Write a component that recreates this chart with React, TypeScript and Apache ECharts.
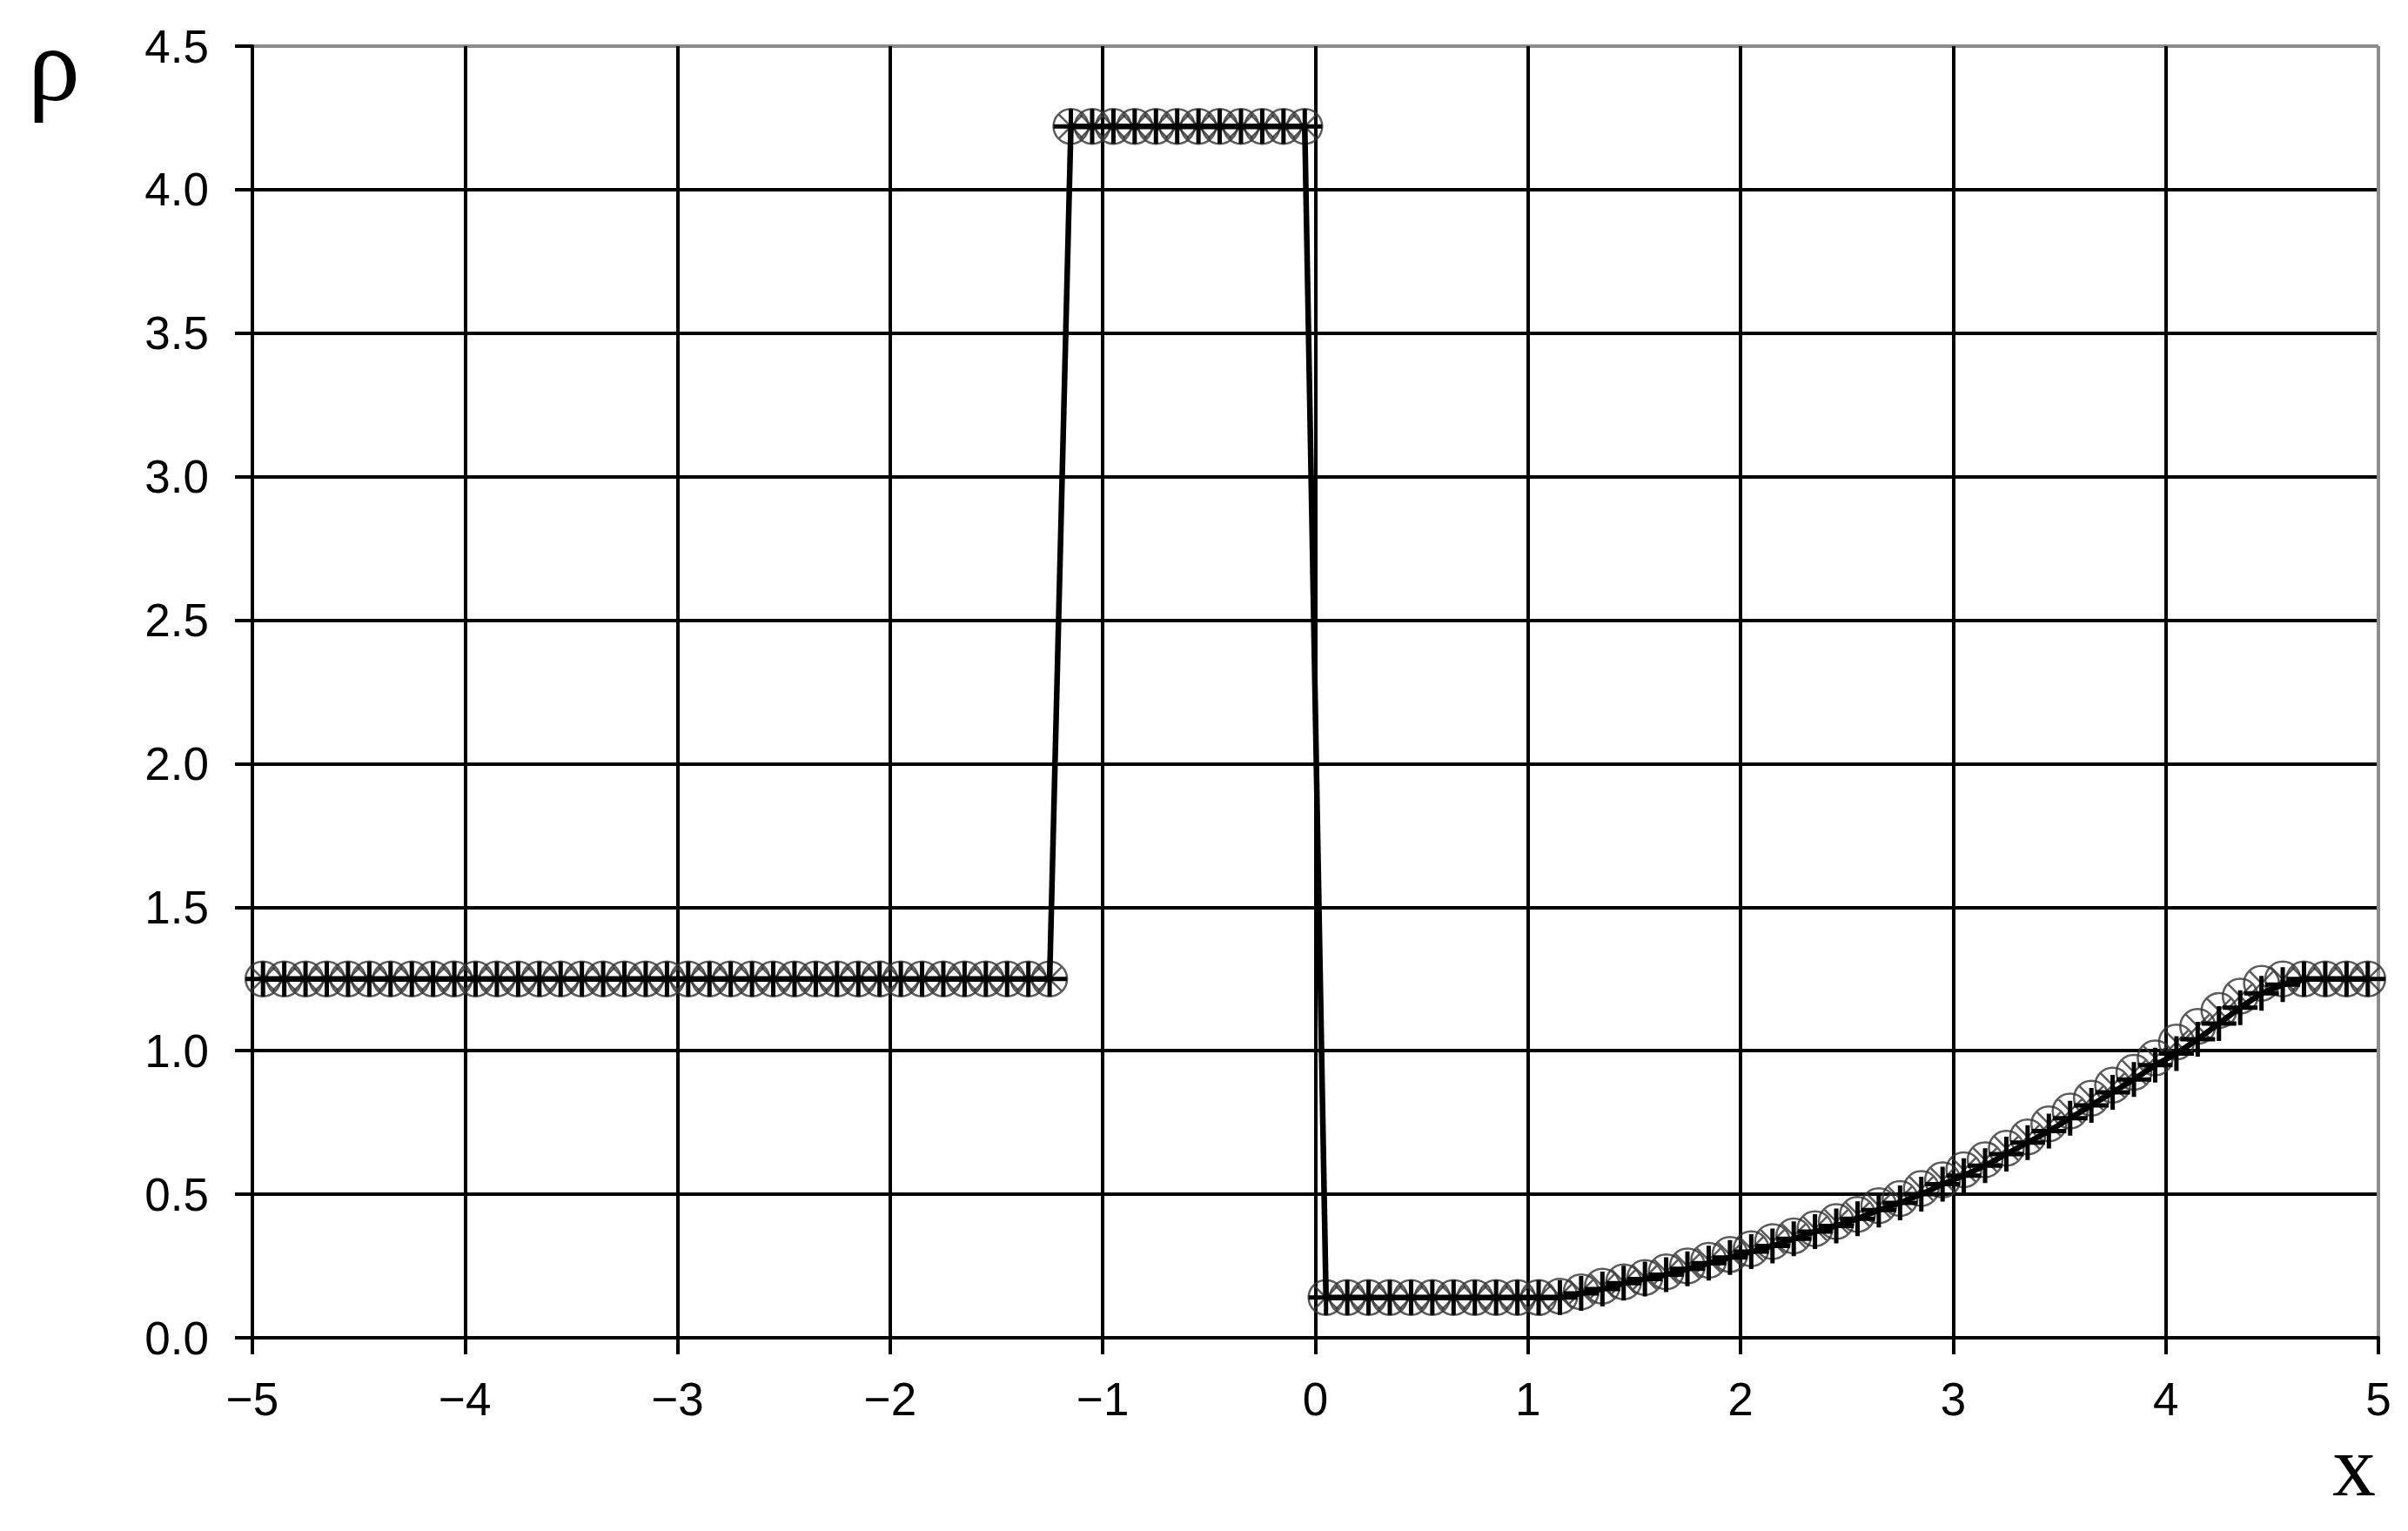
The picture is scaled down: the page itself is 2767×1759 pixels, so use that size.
import React, { useEffect, useRef } from "react";
import * as echarts from "echarts";

// cell-centre coordinates
const X = [
  -4.95, -4.85, -4.75, -4.65, -4.55, -4.45, -4.35, -4.25, -4.15, -4.05,
  -3.95, -3.85, -3.75, -3.65, -3.55, -3.45, -3.35, -3.25, -3.15, -3.05,
  -2.95, -2.85, -2.75, -2.65, -2.55, -2.45, -2.35, -2.25, -2.15, -2.05,
  -1.95, -1.85, -1.75, -1.65, -1.55, -1.45, -1.35, -1.25, -1.15, -1.05,
  -0.95, -0.85, -0.75, -0.65, -0.55, -0.45, -0.35, -0.25, -0.15, -0.05,
  0.05, 0.15, 0.25, 0.35, 0.45, 0.55, 0.65, 0.75, 0.85, 0.95,
  1.05, 1.15, 1.25, 1.35, 1.45, 1.55, 1.65, 1.75, 1.85, 1.95,
  2.05, 2.15, 2.25, 2.35, 2.45, 2.55, 2.65, 2.75, 2.85, 2.95,
  3.05, 3.15, 3.25, 3.35, 3.45, 3.55, 3.65, 3.75, 3.85, 3.95,
  4.05, 4.15, 4.25, 4.35, 4.45, 4.55, 4.65, 4.75, 4.85, 4.95,
];

// series drawn with "+" markers and the solid line
const RHO_PLUS = [
  1.25, 1.25, 1.25, 1.25, 1.25, 1.25, 1.25, 1.25, 1.25, 1.25,
  1.25, 1.25, 1.25, 1.25, 1.25, 1.25, 1.25, 1.25, 1.25, 1.25,
  1.25, 1.25, 1.25, 1.25, 1.25, 1.25, 1.25, 1.25, 1.25, 1.25,
  1.25, 1.25, 1.25, 1.25, 1.25, 1.25, 1.25, 1.25, 4.22, 4.22,
  4.22, 4.22, 4.22, 4.22, 4.22, 4.22, 4.22, 4.22, 4.22, 4.22,
  0.14, 0.14, 0.14, 0.14, 0.14, 0.14, 0.14, 0.14, 0.14, 0.14,
  0.14, 0.14, 0.155, 0.17, 0.19, 0.205, 0.22, 0.24, 0.26, 0.28,
  0.30, 0.32, 0.345, 0.37, 0.39, 0.415, 0.445, 0.47, 0.50, 0.535,
  0.565, 0.60, 0.64, 0.68, 0.72, 0.765, 0.81, 0.855, 0.90, 0.95,
  0.99, 1.04, 1.095, 1.15, 1.20, 1.23, 1.25, 1.25, 1.25, 1.25,
];

// series drawn with circled-cross markers
const RHO_CIRCLE = [
  1.25, 1.25, 1.25, 1.25, 1.25, 1.25, 1.25, 1.25, 1.25, 1.25,
  1.25, 1.25, 1.25, 1.25, 1.25, 1.25, 1.25, 1.25, 1.25, 1.25,
  1.25, 1.25, 1.25, 1.25, 1.25, 1.25, 1.25, 1.25, 1.25, 1.25,
  1.25, 1.25, 1.25, 1.25, 1.25, 1.25, 1.25, 1.25, 4.22, 4.22,
  4.22, 4.22, 4.22, 4.22, 4.22, 4.22, 4.22, 4.22, 4.22, 4.22,
  0.14, 0.14, 0.14, 0.14, 0.14, 0.14, 0.14, 0.14, 0.14, 0.14,
  0.14, 0.145, 0.16, 0.18, 0.195, 0.21, 0.23, 0.25, 0.27, 0.29,
  0.31, 0.335, 0.355, 0.38, 0.405, 0.43, 0.46, 0.485, 0.52, 0.55,
  0.585, 0.62, 0.66, 0.70, 0.745, 0.79, 0.835, 0.88, 0.925, 0.975,
  1.03, 1.085, 1.14, 1.19, 1.235, 1.25, 1.25, 1.25, 1.25, 1.25,
];

const X_TICKS = [-5, -4, -3, -2, -1, 0, 1, 2, 3, 4, 5];
const Y_TICKS = [0, 0.5, 1, 1.5, 2, 2.5, 3, 3.5, 4, 4.5];

const CIRCLE_X = "path://M0,-10 A10,10 0 1,1 0,10 A10,10 0 1,1 0,-10 Z M-7,-7 L7,7 M7,-7 L-7,7";
const PLUS = "path://M0,-10 L0,10 M-10,0 L10,0";

export default function App() {
  const ref = useRef<HTMLDivElement>(null);
  useEffect(() => {
    if (!ref.current) return;
    const chart = echarts.init(ref.current, null, { renderer: "svg" });
    const xColors = X_TICKS.map((_, i) => (i === X_TICKS.length - 1 ? "#8c8c8c" : "#000"));
    const yColors = Y_TICKS.map((_, i) => (i === Y_TICKS.length - 1 ? "#8c8c8c" : "#000"));
    const labelFont = { fontSize: 53, color: "#000", fontFamily: "Liberation Sans, Arial, sans-serif" };
    chart.setOption({
      animation: false,
      backgroundColor: "#fff",
      grid: { left: 290, top: 53, width: 2443, height: 1484 },
      xAxis: {
        type: "value",
        min: -5,
        max: 5,
        interval: 1,
        axisLine: { show: true, onZero: false, lineStyle: { color: "#000", width: 4 } },
        axisTick: { show: true, length: 19, lineStyle: { color: "#000", width: 4 } },
        axisLabel: {
          ...labelFont,
          margin: 44,
          formatter: (v: number) => (v < 0 ? "\u2212" + Math.abs(v) : String(v)),
        },
        splitLine: { show: true, lineStyle: { color: xColors, width: 4 } },
      },
      yAxis: {
        type: "value",
        min: 0,
        max: 4.5,
        interval: 0.5,
        axisLine: { show: true, onZero: false, lineStyle: { color: "#000", width: 4 } },
        axisTick: { show: true, length: 20, lineStyle: { color: "#000", width: 4 } },
        axisLabel: { ...labelFont, margin: 50, formatter: (v: number) => v.toFixed(1) },
        splitLine: { show: true, lineStyle: { color: yColors, width: 4 } },
      },
      series: [
        {
          type: "scatter",
          data: X.map((x, i) => [x, RHO_CIRCLE[i]]),
          symbol: CIRCLE_X,
          symbolSize: 40,
          itemStyle: { color: "transparent", borderColor: "#333", borderWidth: 2.5 },
          z: 3,
        },
        {
          type: "line",
          data: X.map((x, i) => [x, RHO_PLUS[i]]),
          symbol: PLUS,
          symbolSize: 40,
          showSymbol: true,
          lineStyle: { color: "#000", width: 6.5 },
          itemStyle: { color: "transparent", borderColor: "#000", borderWidth: 5 },
          z: 4,
        },
      ],
      graphic: [
        {
          type: "text",
          x: 62,
          y: 74,
          style: {
            text: "\u03c1",
            fontSize: 120,
            fontFamily: "Liberation Serif, Times New Roman, serif",
            fill: "#000",
            textAlign: "center",
            textVerticalAlign: "middle",
          },
        },
        {
          type: "text",
          x: 2705,
          y: 1684,
          style: {
            text: "x",
            fontSize: 100,
            fontFamily: "Liberation Serif, Times New Roman, serif",
            fill: "#000",
            textAlign: "center",
            textVerticalAlign: "middle",
          },
        },
      ],
    });
    return () => chart.dispose();
  }, []);
  return (
    <div
      ref={ref}
      style={{ position: "absolute", left: 0, top: 0, width: 2767, height: 1759, background: "#fff" }}
    />
  );
}
